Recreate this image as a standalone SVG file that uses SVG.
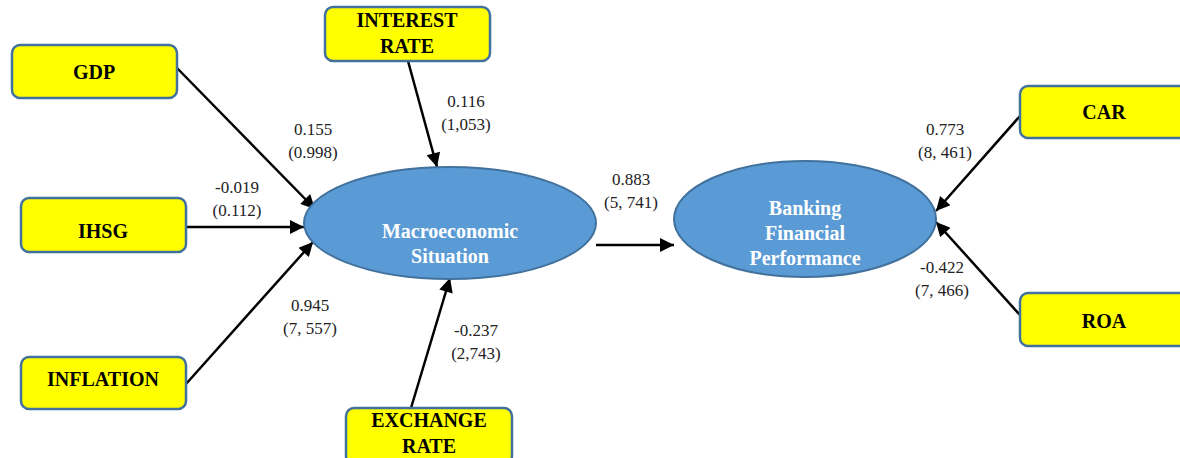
<svg xmlns="http://www.w3.org/2000/svg" width="1180" height="458" viewBox="0 0 1180 458">
<style>
.box{fill:#FFFF00;stroke:#41719C;stroke-width:2.5}
.ell{fill:#5B9BD5;stroke:#41719C;stroke-width:2}
.bt{font-family:"Liberation Serif",serif;font-weight:bold;font-size:20px;fill:#000;text-anchor:middle}
.et{font-family:"Liberation Serif",serif;font-weight:bold;font-size:20px;fill:#fff;text-anchor:middle}
.lt{font-family:"Liberation Serif",serif;font-size:17px;fill:#222;text-anchor:middle}
.con{stroke:#000;stroke-width:2.5;fill:none;marker-end:url(#ah)}
</style>
<defs>
<marker id="ah" viewBox="0 0 10 10" refX="10" refY="5" markerWidth="6.4" markerHeight="5.6" markerUnits="strokeWidth" orient="auto">
<path d="M0,0 L10,5 L0,10 z" fill="#000"/>
</marker>
</defs>
<rect width="1180" height="458" fill="#fff"/>
<g id="connectors">
<line class="con" x1="177" y1="68" x2="315" y2="209"/>
<line class="con" x1="408" y1="61" x2="437" y2="167"/>
<line class="con" x1="186" y1="227" x2="304" y2="227"/>
<line class="con" x1="186" y1="384" x2="313" y2="242"/>
<line class="con" x1="411" y1="408" x2="450" y2="278"/>
<line class="con" x1="596" y1="245" x2="674" y2="245"/>
<line class="con" x1="1020" y1="116" x2="936" y2="211"/>
<line class="con" x1="1020" y1="315" x2="936" y2="222"/>
<text class="lt" x="313" y="135">0.155</text>
<text class="lt" x="313" y="158">(0.998)</text>
<text class="lt" x="466" y="107">0.116</text>
<text class="lt" x="466" y="130">(1,053)</text>
<text class="lt" x="237" y="193">-0.019</text>
<text class="lt" x="237" y="216">(0.112)</text>
<text class="lt" x="310" y="311">0.945</text>
<text class="lt" x="310" y="334">(7, 557)</text>
<text class="lt" x="476" y="336">-0.237</text>
<text class="lt" x="476" y="359">(2,743)</text>
<text class="lt" x="631" y="185">0.883</text>
<text class="lt" x="631" y="208">(5, 741)</text>
<text class="lt" x="945" y="135">0.773</text>
<text class="lt" x="945" y="158">(8, 461)</text>
<text class="lt" x="942" y="273">-0.422</text>
<text class="lt" x="942" y="296">(7, 466)</text>
</g>
<g id="gdp"><rect class="box" x="12" y="45" width="165" height="53" rx="8"/><text class="bt" x="94" y="79">GDP</text></g>
<g id="interest"><rect class="box" x="325" y="7" width="165" height="54" rx="8"/><text class="bt" x="407" y="27">INTEREST</text><text class="bt" x="407" y="53">RATE</text></g>
<g id="ihsg"><rect class="box" x="21" y="198" width="165" height="54" rx="8"/><text class="bt" x="103" y="238">IHSG</text></g>
<g id="inflation"><rect class="box" x="21" y="357" width="165" height="52" rx="8"/><text class="bt" x="103" y="386">INFLATION</text></g>
<g id="exchange"><rect class="box" x="346" y="408" width="166" height="56" rx="8"/><text class="bt" x="429" y="427">EXCHANGE</text><text class="bt" x="429" y="453">RATE</text></g>
<g id="car"><rect class="box" x="1020" y="86" width="170" height="52" rx="8"/><text class="bt" x="1104" y="119">CAR</text></g>
<g id="roa"><rect class="box" x="1020" y="293" width="170" height="53" rx="8"/><text class="bt" x="1104" y="328">ROA</text></g>
<g id="macro"><ellipse class="ell" cx="450" cy="223" rx="146" ry="56"/><text class="et" x="450" y="238">Macroeconomic</text><text class="et" x="450" y="263">Situation</text></g>
<g id="banking"><ellipse class="ell" cx="805" cy="219" rx="131" ry="58"/><text class="et" x="805" y="215">Banking</text><text class="et" x="805" y="240">Financial</text><text class="et" x="805" y="265">Performance</text></g>
</svg>
